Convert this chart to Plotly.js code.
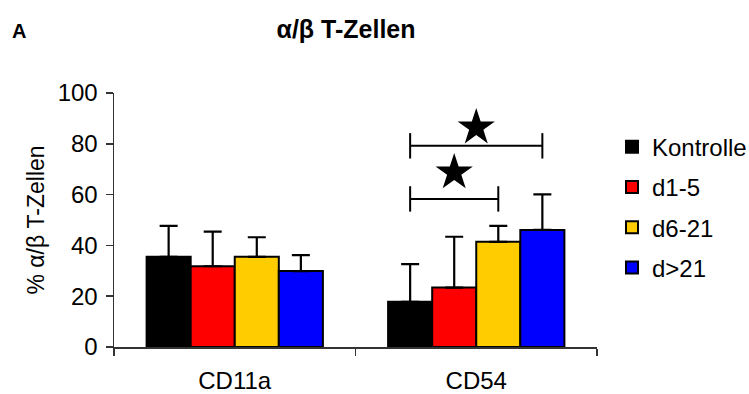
<!DOCTYPE html>
<html>
<head>
<meta charset="utf-8">
<script src="https://cdn.plot.ly/plotly-3.0.1.min.js"></script>
<style>html,body{margin:0;padding:0;background:#fff;}#chart{width:749px;height:394px;}</style>
</head>
<body>
<div id="chart"></div>
<script>
// ---- data ----
var categories = ["CD11a", "CD54"];
var seriesNames = ["Kontrolle", "d1-5", "d6-21", "d>21"];
var seriesColors = ["#000000", "#ff0000", "#ffcc00", "#0000ff"];
var kontrolle = [35.5, 17.8];
var d1_5 = [31.8, 23.4];
var d6_21 = [35.5, 41.4];
var dGt21 = [29.9, 46.1];
var kontrolleErr = [12.2, 14.8];
var d1_5Err = [13.6, 20.0];
var d6_21Err = [7.7, 6.3];
var dGt21Err = [6.3, 14.0];
var yTicks = [0, 20, 40, 60, 80, 100];
// significance brackets in CD54 group: pairs of series indices
var sigGroup = 1;
var sigPairs = [[0, 2], [0, 3]];
var sigLineY = [58.3, 79.2];
var sigStarY = [68.7, 86.4];
var sigTickHalf = 5;

var values = [kontrolle, d1_5, d6_21, dGt21];
var errs = [kontrolleErr, d1_5Err, d6_21Err, dGt21Err];

var bargap = 0.27;
var nSeries = values.length;
var barW = (1 - bargap) / nSeries;
function barCenter(group, s) { return group + (s - (nSeries - 1) / 2) * barW; }

var font = "Liberation Sans, Arial, sans-serif";
var traces = [];
for (var i = 0; i < nSeries; i++) {
  traces.push({
    type: "bar", name: seriesNames[i], x: categories, y: values[i],
    legendgroup: "g" + i,
    marker: {color: seriesColors[i], line: {color: "#000", width: 2}},
    error_y: {type: "data", symmetric: false, array: errs[i], arrayminus: [0, 0], color: "#000", thickness: 2.2, width: 9},
    hoverinfo: "skip"
  });
}
// brackets and stars on an overlaid linear axis aligned with category indices
for (var k = 0; k < sigPairs.length; k++) {
  var xa = barCenter(sigGroup, sigPairs[k][0]);
  var xb = barCenter(sigGroup, sigPairs[k][1]);
  var yy = sigLineY[k];
  traces.push({
    type: "scatter", mode: "lines", xaxis: "x2", yaxis: "y", showlegend: false,
    x: [xa, xa, null, xa, xb, null, xb, xb],
    y: [yy - sigTickHalf, yy + sigTickHalf, null, yy, yy, null, yy - sigTickHalf, yy + sigTickHalf],
    line: {color: "#000", width: 2}, hoverinfo: "skip"
  });
  traces.push({
    type: "scatter", mode: "markers", xaxis: "x2", yaxis: "y", showlegend: false,
    x: [(xa + xb) / 2], y: [sigStarY[k]],
    marker: {symbol: "star", size: 28, color: "#000", line: {width: 0}}, hoverinfo: "skip"
  });
}

var layout = {
  width: 749, height: 394,
  margin: {l: 114, r: 152, t: 93, b: 47, autoexpand: false},
  paper_bgcolor: "#fff", plot_bgcolor: "#fff",
  font: {family: font, size: 24, color: "#000"},
  barmode: "group", bargap: bargap, bargroupgap: 0,
  showlegend: true,
  title: {text: "<b>α/β T-Zellen</b>", x: 0.462, xanchor: "center", xref: "container", y: 0.925, yanchor: "middle", yref: "container",
          font: {family: font, size: 25, color: "#000"}},
  xaxis: {type: "category", range: [-0.5, 1.5], showline: true, linecolor: "#333", linewidth: 1.5,
          ticks: "outside", tickson: "boundaries", ticklen: 7, tickcolor: "#333", tickwidth: 1.5,
          showgrid: false, zeroline: false, tickfont: {size: 24}, ticklabelstandoff: 12},
  xaxis2: {range: [-0.5, 1.5], overlaying: "x", visible: false, fixedrange: true},
  yaxis: {range: [0, 100], tickvals: yTicks, showline: true, linecolor: "#333", linewidth: 1.5,
          ticks: "outside", ticklen: 7, tickcolor: "#333", tickwidth: 1.5, showgrid: false, zeroline: false,
          tickfont: {size: 24}, ticklabelstandoff: 3,
          title: {text: "% α/β T-Zellen", standoff: 6, font: {size: 23}}},
  legend: {x: 1.031, xanchor: "left", y: 0.875, yanchor: "top", traceorder: "grouped", tracegroupgap: 6,
           font: {size: 24}, bgcolor: "rgba(0,0,0,0)", borderwidth: 0},
  annotations: [{text: "<b>A</b>", xref: "paper", yref: "paper", x: -0.216, y: 1.245, xanchor: "left", yanchor: "middle",
                 showarrow: false, font: {family: font, size: 20, color: "#000"}}]
};
Plotly.newPlot("chart", traces, layout, {staticPlot: true, displayModeBar: false});
</script>
</body>
</html>
